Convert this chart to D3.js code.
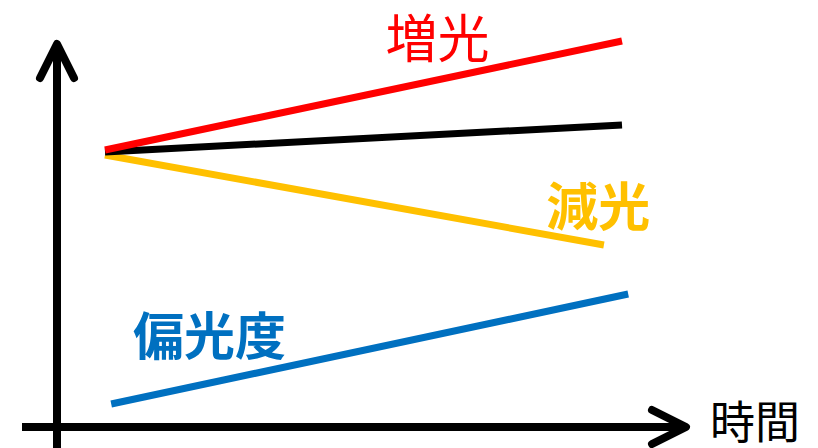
<!DOCTYPE html>
<html><head><meta charset="utf-8">
<script src="https://cdn.jsdelivr.net/npm/d3@7"></script>
<style>html,body{margin:0;padding:0;background:#fff;}svg{display:block;}</style>
</head><body>
<script>
// Data (arbitrary units: time 0-100, value 0-100)
const seriesNames = ["増光", "一定", "減光", "偏光度"];
const seriesColors = ["#FF0000", "#000000", "#FFC000", "#0070C0"];
const timeStart = [0, 0, 0, 1.2];
const timeEnd = [100, 100, 96.5, 101.2];
const valueStart = [69.25, 68.75, 68, 5.75];
const valueEnd = [96.5, 75.5, 45.5, 33.25];
const labelTexts = ["増光", null, "減光", "偏光度"];
const labelWeights = [400, 0, 700, 700];
const labelT = [64.3, 0, 95.4, 20.2];
const labelV = [98, 0, 56, 23.5];
const labelSizes = [52, 0, 52, 51];
const axisLabel = "時間";

const W = 818, H = 448;
const svg = d3.select("body").append("svg").attr("width", W).attr("height", H);

const x = d3.scaleLinear().domain([0, 100]).range([105, 622]);
const y = d3.scaleLinear().domain([0, 100]).range([427, 27]);

const axisX0 = 57; // y-axis pixel x
const axisY0 = 427; // x-axis pixel y

// axes
const g = svg.append("g").attr("stroke", "#000").attr("stroke-width", 8).attr("fill", "none")
  .attr("stroke-linecap", "round").attr("stroke-linejoin", "round");
g.append("line").attr("x1", axisX0).attr("x2", axisX0).attr("y1", 452).attr("y2", 44).attr("stroke-linecap", "butt");
g.append("polyline").attr("points", `${axisX0-17},${78} ${axisX0},${44} ${axisX0+17},${78}`);
g.append("line").attr("x1", 22).attr("x2", 686).attr("y1", axisY0).attr("y2", axisY0).attr("stroke-linecap", "butt");
g.append("polyline").attr("points", `${652},${axisY0-17} ${686},${axisY0} ${652},${axisY0+17}`);

// series lines
const line = d3.line().x(d => x(d[0])).y(d => y(d[1]));
const order = [3, 2, 1, 0];
order.forEach(i => {
  svg.append("path")
    .attr("d", line([[timeStart[i], valueStart[i]], [timeEnd[i], valueEnd[i]]]))
    .attr("stroke", seriesColors[i]).attr("stroke-width", 7).attr("fill", "none");
});

// labels
labelTexts.forEach((t, i) => {
  if (!t) return;
  svg.append("text").text(t)
    .attr("x", x(labelT[i])).attr("y", y(labelV[i]))
    .attr("text-anchor", "middle").attr("dominant-baseline", "central")
    .attr("font-family", "'Noto Sans CJK JP', sans-serif")
    .attr("font-size", labelSizes[i]).attr("font-weight", labelWeights[i])
    .attr("fill", seriesColors[i]);
});

svg.append("text").text(axisLabel)
  .attr("x", 755).attr("y", 419)
  .attr("text-anchor", "middle").attr("dominant-baseline", "central")
  .attr("font-family", "'Noto Sans CJK JP', sans-serif")
  .attr("font-size", 45).attr("fill", "#000");
</script>
</body></html>
